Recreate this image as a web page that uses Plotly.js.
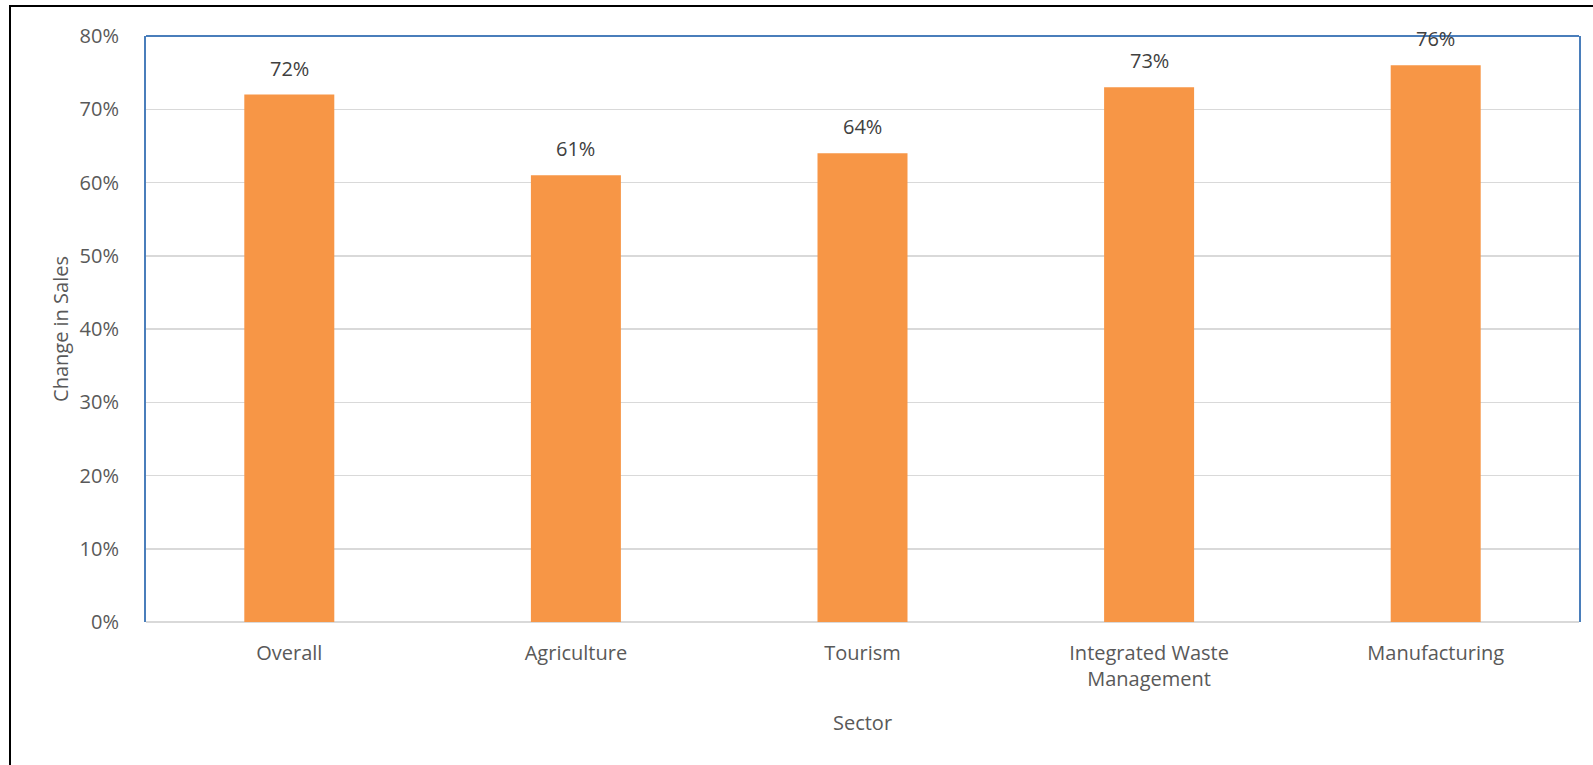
<!DOCTYPE html>
<html>
<head>
<meta charset="utf-8">
<script src="https://cdn.plot.ly/plotly-3.0.1.min.js"></script>
<style>
  html, body { margin: 0; padding: 0; background: #fff; overflow: hidden; }
  #wrap { position: relative; width: 1593px; height: 765px; overflow: hidden; }
  #chart { position: absolute; left: 0; top: 0; width: 1593px; height: 765px; }
  #vline { position: absolute; left: 9px; top: 5px; width: 2px; height: 760px; background: #000; }
  #hline { position: absolute; left: 9px; top: 5px; width: 1584px; height: 2px; background: #000; }
</style>
</head>
<body>
<div id="wrap">
  <div id="chart"></div>
  <div id="vline"></div>
  <div id="hline"></div>
</div>
<script>
const categories = ["Overall", "Agriculture", "Tourism", "Integrated Waste<br>Management", "Manufacturing"];
const values = [0.72, 0.61, 0.64, 0.73, 0.76];
const valueLabels = ["72%", "61%", "64%", "73%", "76%"];
const yTickVals = [0, 0.1, 0.2, 0.3, 0.4, 0.5, 0.6, 0.7, 0.8];
const yTickText = ["0%", "10%", "20%", "30%", "40%", "50%", "60%", "70%", "80%"];

const FONT = "'Open Sans', Lato, sans-serif";
const FS = 20;

const trace = {
  type: "bar",
  x: categories,
  y: values,
  marker: { color: "#F79646" },
  hoverinfo: "skip"
};

const annotations = categories.map((c, i) => ({
  x: c, y: values[i], xref: "x", yref: "y",
  text: valueLabels[i], showarrow: false,
  yanchor: "bottom", yshift: 11,
  font: { family: FONT, size: FS, color: "#404040" }
}));

const layout = {
  width: 1593, height: 765,
  margin: { l: 146, r: 14, t: 36, b: 143 },
  paper_bgcolor: "#ffffff",
  plot_bgcolor: "#ffffff",
  bargap: 0.686,
  showlegend: false,
  font: { family: FONT, size: FS, color: "#595959" },
  xaxis: {
    type: "category",
    showline: false,
    showgrid: false,
    ticks: "outside",
    ticklen: 13,
    tickcolor: "rgba(0,0,0,0)",
    tickfont: { family: FONT, size: FS, color: "#595959" },
    title: { text: "Sector", font: { family: FONT, size: FS, color: "#595959" }, standoff: 24 },
    automargin: false
  },
  yaxis: {
    range: [0, 0.8],
    tickvals: yTickVals,
    ticktext: yTickText,
    showgrid: true,
    gridcolor: "#D9D9D9",
    gridwidth: 1.5,
    zeroline: true,
    zerolinecolor: "#D9D9D9",
    zerolinewidth: 2,
    showline: true,
    linecolor: "#4A7EBB",
    linewidth: 2,
    mirror: true,
    ticks: "outside",
    ticklen: 21,
    tickcolor: "rgba(0,0,0,0)",
    tickfont: { family: FONT, size: FS, color: "#595959" },
    title: { text: "Change in Sales", font: { family: FONT, size: FS, color: "#595959" }, standoff: 6 },
    automargin: false
  },
  shapes: [
    { type: "line", xref: "paper", yref: "paper", x0: 0, x1: 1, y0: 1, y1: 1,
      line: { color: "#4A7EBB", width: 2 } }
  ],
  annotations: annotations
};

Plotly.newPlot("chart", [trace], layout, { staticPlot: true, displayModeBar: false });
</script>
</body>
</html>
